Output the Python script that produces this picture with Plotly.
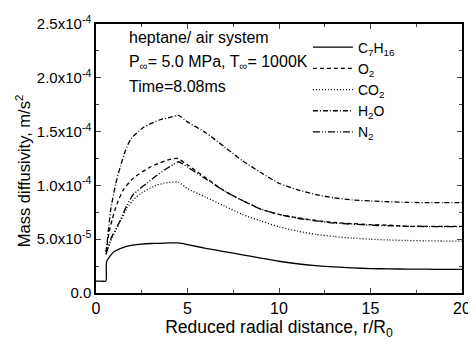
import plotly.graph_objects as go

# Reduced radial distance r/R0 and mass diffusivity (m/s^2)
x_c7h16 = [0, 0.3, 0.54, 0.56, 0.6, 0.8, 1.0, 1.5, 2.0, 2.5, 3.0, 3.5, 4.0, 4.5, 5, 6, 7, 8, 9, 10,
           11, 12, 13, 14, 15, 16, 17, 18, 19, 20]
c7h16 = [1.1e-5, 1.1e-5, 1.1e-5, 2.6e-5, 3.0e-5, 3.5e-5, 3.85e-5, 4.25e-5, 4.45e-5, 4.55e-5, 4.6e-5,
         4.62e-5, 4.65e-5, 4.65e-5, 4.5e-5, 4.15e-5, 3.85e-5, 3.55e-5, 3.25e-5, 2.95e-5,
         2.72e-5, 2.55e-5, 2.42e-5, 2.33e-5, 2.27e-5, 2.24e-5, 2.22e-5, 2.21e-5, 2.2e-5, 2.2e-5]

x_tail = [5, 6, 7, 8, 9, 10, 11, 12, 13, 14, 15, 16, 17, 18, 19, 20]

x_o2 = [0.55, 0.7, 0.88, 1.15, 1.5, 2.06, 2.96, 3.5, 4.0, 4.45] + x_tail
o2 = [3.8e-5, 5.5e-5, 6.8e-5, 8.3e-5, 9.6e-5, 1.07e-4, 1.17e-4, 1.21e-4, 1.24e-4, 1.25e-4,
      1.19e-4, 1.07e-4, 9.5e-5, 8.6e-5, 7.8e-5, 7.3e-5, 7.0e-5, 6.75e-5, 6.55e-5, 6.45e-5, 6.35e-5,
      6.3e-5, 6.2e-5, 6.2e-5, 6.2e-5, 6.2e-5]

x_co2 = [0.55, 0.8, 1.25, 1.7, 2.06, 2.5, 3.14, 3.7, 4.5] + x_tail
co2 = [3.6e-5, 4.8e-5, 6.4e-5, 7.9e-5, 8.7e-5, 9.3e-5, 9.9e-5, 1.02e-4, 1.03e-4,
       9.7e-5, 8.9e-5, 8.1e-5, 7.3e-5, 6.7e-5, 6.15e-5, 5.75e-5, 5.45e-5, 5.25e-5, 5.1e-5, 5.0e-5,
       4.93e-5, 4.88e-5, 4.85e-5, 4.83e-5, 4.82e-5]

x_h2o = [0.55, 0.7, 0.8, 1.07, 1.34, 1.6, 1.9, 2.6, 3.5, 4.0, 4.5] + x_tail
h2o = [3.8e-5, 6.2e-5, 7.7e-5, 1.01e-4, 1.18e-4, 1.32e-4, 1.43e-4, 1.54e-4, 1.61e-4, 1.63e-4, 1.65e-4,
       1.59e-4, 1.49e-4, 1.36e-4, 1.23e-4, 1.12e-4, 1.02e-4, 9.6e-5, 9.15e-5, 8.85e-5, 8.65e-5,
       8.55e-5, 8.48e-5, 8.43e-5, 8.4e-5, 8.4e-5, 8.4e-5]

x_n2 = [0.55, 0.8, 1.25, 1.7, 2.06, 2.78, 3.3, 3.8, 4.2, 4.5] + x_tail
n2 = [3.6e-5, 5.0e-5, 6.5e-5, 8.2e-5, 9.2e-5, 1.02e-4, 1.09e-4, 1.15e-4, 1.19e-4, 1.22e-4,
      1.17e-4, 1.06e-4, 9.5e-5, 8.6e-5, 7.8e-5, 7.3e-5, 6.95e-5, 6.7e-5, 6.5e-5, 6.4e-5, 6.3e-5,
      6.25e-5, 6.2e-5, 6.18e-5, 6.17e-5, 6.17e-5]

series_names = ["C<sub>7</sub>H<sub>16</sub>", "O<sub>2</sub>", "CO<sub>2</sub>", "H<sub>2</sub>O", "N<sub>2</sub>"]

y_tickvals = [0, 5e-5, 1e-4, 1.5e-4, 2e-4, 2.5e-4]
y_ticktext = ["0.0", "5.0x10<sup>-5</sup>", "1.0x10<sup>-4</sup>", "1.5x10<sup>-4</sup>",
              "2.0x10<sup>-4</sup>", "2.5x10<sup>-4</sup>"]
x_tickvals = [0, 5, 10, 15, 20]

FONT = "Liberation Sans, Arial, sans-serif"

fig = go.Figure()
styles = [
    (x_c7h16, c7h16, "solid"),
    (x_o2, o2, "4px,3px"),
    (x_co2, co2, "1px,2px"),
    (x_h2o, h2o, "5px,2px,1px,2px"),
    (x_n2, n2, "7px,2px,1px,2px,1px,2px"),
]
for name, (xs, ys, dash) in zip(series_names, styles):
    fig.add_trace(go.Scatter(x=xs, y=ys, mode="lines", name=name,
                             line=dict(color="black", width=1.3, dash=dash, shape="spline", smoothing=0.6)))

# page body has an 8px margin; figure is sized so the plot area lands where the reference has it
fig.update_layout(
    width=468, height=337,
    margin=dict(l=88, r=11, t=5, b=52),
    paper_bgcolor="white", plot_bgcolor="white",
    font=dict(family=FONT, size=14, color="black"),
    showlegend=True,
    legend=dict(x=0.579, y=0.972, xanchor="left", yanchor="top", bgcolor="rgba(0,0,0,0)",
                font=dict(size=14), tracegroupgap=0, itemwidth=40),
    xaxis=dict(range=[0, 20], tickvals=x_tickvals, ticks="inside", ticklen=5, tickwidth=1,
               showline=True, linecolor="black", linewidth=1.5, mirror="ticks", showgrid=False,
               zeroline=False, tickfont=dict(size=16), ticklabeloverflow="allow",
               minor=dict(ticks="inside", ticklen=3, dtick=2.5, showgrid=False),
               title=dict(text="Reduced radial distance, r/R<sub>0</sub>", font=dict(size=17.5), standoff=5)),
    yaxis=dict(range=[0, 2.5e-4], tickvals=y_tickvals, ticktext=y_ticktext, ticks="inside",
               ticklen=5, tickwidth=1, showline=True, linecolor="black", linewidth=1.5, mirror="ticks",
               showgrid=False, zeroline=False, tickfont=dict(size=15), ticklabeloverflow="allow",
               minor=dict(ticks="inside", ticklen=3, dtick=2.5e-5, showgrid=False)),
)

# y-axis title as a rotated annotation (reference centres it below the plot's midpoint)
fig.add_annotation(text="Mass diffusivity, m/s<sup>2</sup>", xref="paper", yref="paper",
                   x=-0.199, y=(293 - 166) / 280, xanchor="center", yanchor="middle",
                   textangle=-90, showarrow=False, font=dict(size=16.5))

notes = ["heptane/ air system",
         "P<sub>∞</sub>= 5.0 MPa, T<sub>∞</sub>= 1000K",
         "Time=8.08ms"]
note_y = [0.948, 0.856, 0.767]
for t, yy in zip(notes, note_y):
    fig.add_annotation(text=t, xref="paper", yref="paper", x=0.085, y=yy,
                       xanchor="left", yanchor="middle", showarrow=False, font=dict(size=16))

fig.write_html("out.html")
